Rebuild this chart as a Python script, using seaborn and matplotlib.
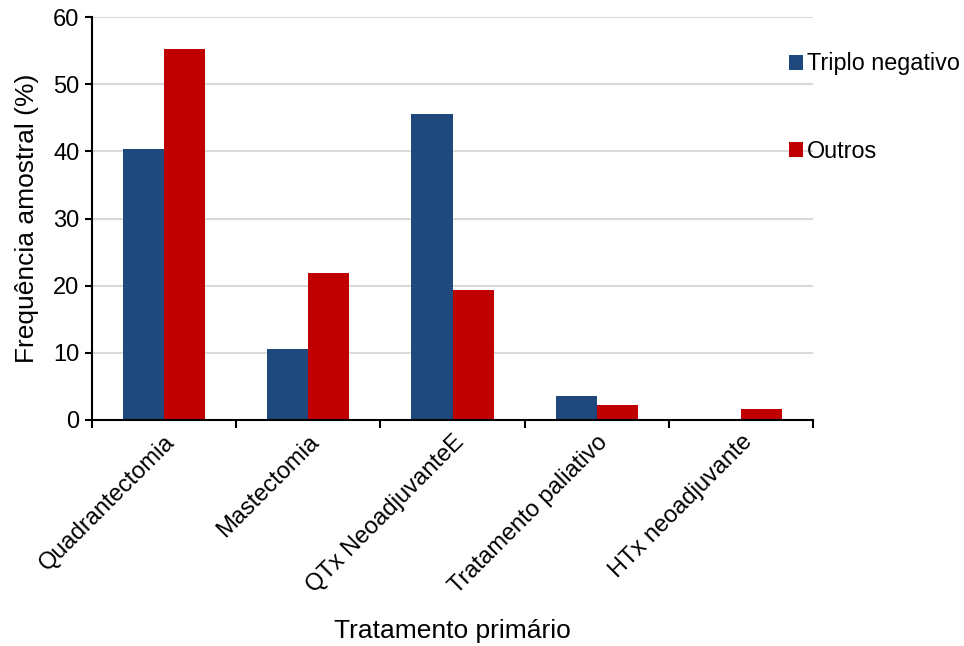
import matplotlib
matplotlib.use("Agg")
import matplotlib.pyplot as plt
from matplotlib.patches import Patch
import seaborn as sns
import pandas as pd

categories = ["Quadrantectomia", "Mastectomia", "QTx NeoadjuvanteE",
              "Tratamento paliativo", "HTx neoadjuvante"]
triplo_negativo = [40.4, 10.55, 45.6, 3.6, 0.0]
outros = [55.2, 21.9, 19.35, 2.2, 1.7]
series_names = ["Triplo negativo", "Outros"]
colors = ["#1F497D", "#C00000"]
y_ticks = [0, 10, 20, 30, 40, 50, 60]

df = pd.DataFrame({
    "Tratamento": categories * 2,
    "Grupo": [series_names[0]] * len(categories) + [series_names[1]] * len(categories),
    "Freq": triplo_negativo + outros,
})

sns.set_theme(style="white")
plt.rcParams["font.family"] = ["Liberation Sans", "DejaVu Sans"]
plt.rcParams["text.color"] = "black"
plt.rcParams["axes.labelcolor"] = "black"
plt.rcParams["xtick.color"] = "black"
plt.rcParams["ytick.color"] = "black"

fig = plt.figure(figsize=(9.64, 6.46), dpi=100)
ax = fig.add_axes([92 / 964, 1 - 420 / 646, (813 - 92) / 964, (420 - 17) / 646])

sns.barplot(data=df, x="Tratamento", y="Freq", hue="Grupo", order=categories,
            hue_order=series_names, palette=colors, width=0.57, saturation=1,
            linewidth=0, ax=ax, legend=False)

ax.set_xlim(-0.5, len(categories) - 0.5)
ax.set_ylim(0, 60)
ax.set_yticks(y_ticks)
ax.yaxis.grid(True, color="#D9D9D9", linewidth=1.5)
ax.set_axisbelow(True)

for s in ["top", "right"]:
    ax.spines[s].set_visible(False)
for s in ["left", "bottom"]:
    ax.spines[s].set_color("black")
    ax.spines[s].set_linewidth(1.5)

ax.tick_params(axis="y", which="major", direction="out", length=5, width=1.5,
               color="black", labelsize=17, left=True, pad=4)
ax.tick_params(axis="x", which="major", length=0, labelsize=17, pad=8)
ax.set_xticks([i - 0.5 for i in range(len(categories) + 1)], minor=True)
ax.tick_params(axis="x", which="minor", direction="out", length=6, width=1.5,
               color="black", bottom=True)
ax.set_xticks(range(len(categories)))
ax.set_xticklabels(categories, rotation=45, ha="right", rotation_mode="anchor",
                   fontsize=17)

ax.set_xlabel("Tratamento primário", fontsize=19, labelpad=15)
ax.set_ylabel("Frequência amostral (%)", fontsize=19, labelpad=10)

handles = [Patch(facecolor=c, edgecolor="none") for c in colors]
fig.legend(handles, series_names, loc="upper left",
           bbox_to_anchor=(780 / 964, 1 - 43 / 646), frameon=False, fontsize=16.8,
           handlelength=0.6, handleheight=0.6, handletextpad=0.15,
           labelspacing=2.75, borderaxespad=0)

fig.savefig("out.png", dpi=100, facecolor="white")
